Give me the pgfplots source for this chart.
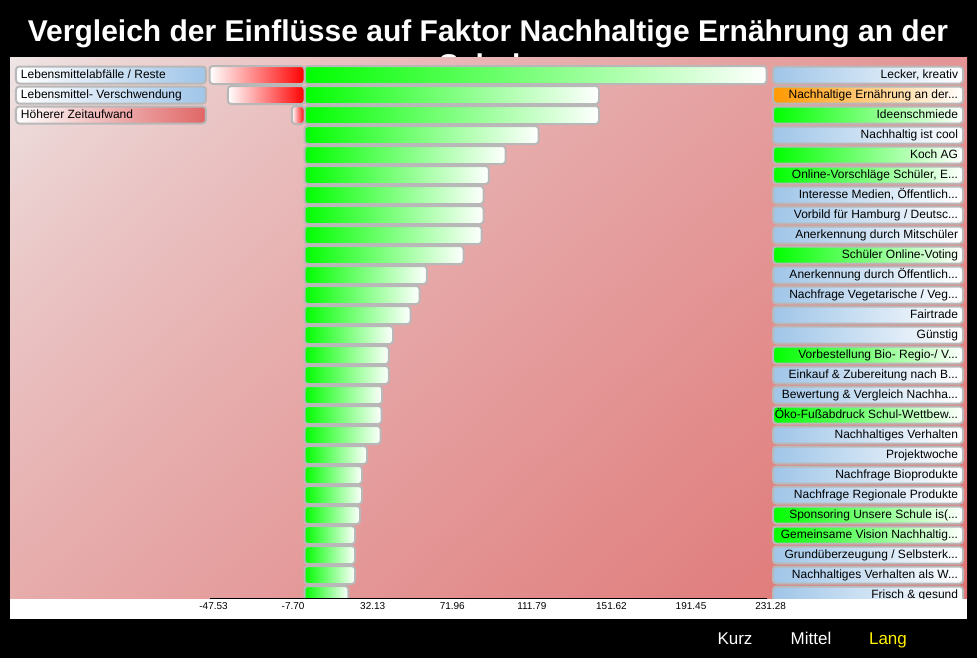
\documentclass[border=0pt]{standalone}
\usepackage{fontspec}
\setmainfont{Liberation Sans}
\usepackage{pgfplots}
\pgfplotsset{compat=1.18}
\definecolor{bord}{HTML}{B8B8B8}
\definecolor{lblue}{HTML}{9FC5E8}
\definecolor{lorange}{HTML}{FF9900}
\definecolor{lgreen}{HTML}{00FF00}
\definecolor{lred}{HTML}{E06666}
\pgfdeclarefunctionalshading{bgshade}{\pgfpointorigin}{\pgfpoint{100bp}{100bp}}{}{
  25 sub 50 div 1 exch sub 0.62 mul
  exch 25 sub 50 div
  add 1.62 div
  dup 0 lt {pop 0} if
  dup 1 gt {pop 1} if
  0.7 exp
  dup 16 mul 239 exch sub 255 div
  exch 118 mul 232 exch sub 255 div
  dup
}
\newcommand{\rt}[1]{\hbox to 135bp{\hss#1}}
\newcommand{\lt}[1]{\hbox to 135bp{#1\hss}}
\tikzset{
  lbl/.style={draw=bord, line width=1.5bp, rounded corners=2.5bp, inner xsep=3.75bp, inner ysep=0pt,
    minimum height=12.75bp, text height=6.7bp, text depth=1.9bp, font=\fontsize{9bp}{10bp}\selectfont, anchor=west},
  rl/.style={lbl, left color=#1, right color=white},
  ll/.style={lbl, left color=white, right color=#1},
}
\pgfplotsset{
  gbar/.style={xbar, bar shift=0pt, bar width=0.9, draw=bord, line width=1.5bp, rounded corners=2.5bp, left color=lgreen, right color=white},
  rbar/.style={xbar, bar shift=0pt, bar width=0.9, draw=bord, line width=1.5bp, rounded corners=2.5bp, left color=white, right color=red},
}
\begin{document}
\begin{tikzpicture}
\begin{scope}[x=0.75bp,y=-0.75bp]
\fill[black] (0,0) rectangle (977,658);
\node[white, anchor=base, inner sep=0pt, font=\bfseries\fontsize{22.5bp}{26bp}\selectfont] at (488,41) {Vergleich der Einflüsse auf Faktor Nachhaltige Ernährung an der};
\node[white, anchor=base, inner sep=0pt, font=\bfseries\fontsize{22.5bp}{26bp}\selectfont] at (488,75) {Schule};
\fill[white] (10,598) rectangle (967,619);
\end{scope}
\begin{axis}[
  at={(7.5bp,-448.5bp)}, anchor=south west,
  scale only axis, width=717.75bp, height=405.75bp,
  xmin=-147.40, xmax=331.58,
  ymin=0.1, ymax=27.15, y dir=reverse,
  axis line style={draw=none},
  tick style={draw=none}, major tick length=0pt,
  ytick=\empty,
  xtick={-47.53,-7.70,32.13,71.96,111.79,151.62,191.45,231.28},
  xticklabels={{-47.53},{-7.70},{32.13},{71.96},{111.79},{151.62},{191.45},{231.28}},
  xticklabel style={font=\fontsize{7.5bp}{8.5bp}\selectfont, text=black, xshift=3bp},
  axis background/.style={shading=bgshade},
]
\addplot[gbar] coordinates {(231.28,1)};
\addplot[gbar] coordinates {(147.4,2)};
\addplot[gbar] coordinates {(147.4,3)};
\addplot[gbar] coordinates {(117.2,4)};
\addplot[gbar] coordinates {(100.7,5)};
\addplot[gbar] coordinates {(92.3,6)};
\addplot[gbar] coordinates {(89.6,7)};
\addplot[gbar] coordinates {(89.6,8)};
\addplot[gbar] coordinates {(88.7,9)};
\addplot[gbar] coordinates {(79.6,10)};
\addplot[gbar] coordinates {(61.3,11)};
\addplot[gbar] coordinates {(57.6,12)};
\addplot[gbar] coordinates {(53.1,13)};
\addplot[gbar] coordinates {(44.3,14)};
\addplot[gbar] coordinates {(42.2,15)};
\addplot[gbar] coordinates {(42.2,16)};
\addplot[gbar] coordinates {(38.9,17)};
\addplot[gbar] coordinates {(38.6,18)};
\addplot[gbar] coordinates {(38.1,19)};
\addplot[gbar] coordinates {(31.3,20)};
\addplot[gbar] coordinates {(28.8,21)};
\addplot[gbar] coordinates {(28.8,22)};
\addplot[gbar] coordinates {(27.8,23)};
\addplot[gbar] coordinates {(25.3,24)};
\addplot[gbar] coordinates {(25.3,25)};
\addplot[gbar] coordinates {(25.3,26)};
\addplot[gbar] coordinates {(21.9,27)};
\addplot[rbar] coordinates {(-47.53,1)};
\addplot[rbar] coordinates {(-38.4,2)};
\addplot[rbar] coordinates {(-6.3,3)};
% left labels
\node[ll=lblue] at (axis cs:-144.9,1) {\lt{Lebensmittelabfälle / Reste}};
\node[ll=lblue] at (axis cs:-144.9,2) {\lt{Lebensmittel- Verschwendung}};
\node[ll=lred] at (axis cs:-144.9,3) {\lt{Höherer Zeitaufwand}};
% right labels
\node[rl=lblue] at (axis cs:234.0,1) {\rt{Lecker, kreativ}};
\node[rl=lorange] at (axis cs:234.0,2) {\rt{Nachhaltige Ernährung an der...}};
\node[rl=lgreen] at (axis cs:234.0,3) {\rt{Ideenschmiede}};
\node[rl=lblue] at (axis cs:234.0,4) {\rt{Nachhaltig ist cool}};
\node[rl=lgreen] at (axis cs:234.0,5) {\rt{Koch AG}};
\node[rl=lgreen] at (axis cs:234.0,6) {\rt{Online-Vorschläge Schüler, E...}};
\node[rl=lblue] at (axis cs:234.0,7) {\rt{Interesse Medien, Öffentlich...}};
\node[rl=lblue] at (axis cs:234.0,8) {\rt{Vorbild für Hamburg / Deutsc...}};
\node[rl=lblue] at (axis cs:234.0,9) {\rt{Anerkennung durch Mitschüler}};
\node[rl=lgreen] at (axis cs:234.0,10) {\rt{Schüler Online-Voting}};
\node[rl=lblue] at (axis cs:234.0,11) {\rt{Anerkennung durch Öffentlich...}};
\node[rl=lblue] at (axis cs:234.0,12) {\rt{Nachfrage Vegetarische / Veg...}};
\node[rl=lblue] at (axis cs:234.0,13) {\rt{Fairtrade}};
\node[rl=lblue] at (axis cs:234.0,14) {\rt{Günstig}};
\node[rl=lgreen] at (axis cs:234.0,15) {\rt{Vorbestellung Bio- Regio-/ V...}};
\node[rl=lblue] at (axis cs:234.0,16) {\rt{Einkauf \& Zubereitung nach B...}};
\node[rl=lblue] at (axis cs:234.0,17) {\rt{Bewertung \& Vergleich Nachha...}};
\node[rl=lgreen] at (axis cs:234.0,18) {\rt{Öko-Fußabdruck Schul-Wettbew...}};
\node[rl=lblue] at (axis cs:234.0,19) {\rt{Nachhaltiges Verhalten}};
\node[rl=lblue] at (axis cs:234.0,20) {\rt{Projektwoche}};
\node[rl=lblue] at (axis cs:234.0,21) {\rt{Nachfrage Bioprodukte}};
\node[rl=lblue] at (axis cs:234.0,22) {\rt{Nachfrage Regionale Produkte}};
\node[rl=lgreen] at (axis cs:234.0,23) {\rt{Sponsoring Unsere Schule is(...}};
\node[rl=lgreen] at (axis cs:234.0,24) {\rt{Gemeinsame Vision Nachhaltig...}};
\node[rl=lblue] at (axis cs:234.0,25) {\rt{Grundüberzeugung / Selbsterk...}};
\node[rl=lblue] at (axis cs:234.0,26) {\rt{Nachhaltiges Verhalten als W...}};
\node[rl=lblue] at (axis cs:234.0,27) {\rt{Frisch \& gesund}};
\end{axis}
\begin{scope}[x=0.75bp,y=-0.75bp]
\draw[black, line width=0.75bp] (210,598) -- (767,598);
\node[white, anchor=base, inner sep=0pt, font=\fontsize{12.75bp}{14bp}\selectfont] at (735,644) {Kurz};
\node[white, anchor=base, inner sep=0pt, font=\fontsize{12.75bp}{14bp}\selectfont] at (811,644) {Mittel};
\node[yellow, anchor=base, inner sep=0pt, font=\fontsize{12.75bp}{14bp}\selectfont] at (888,644) {Lang};
\pgfresetboundingbox
\useasboundingbox (0,0) rectangle (977,658);
\end{scope}
\end{tikzpicture}
\end{document}
